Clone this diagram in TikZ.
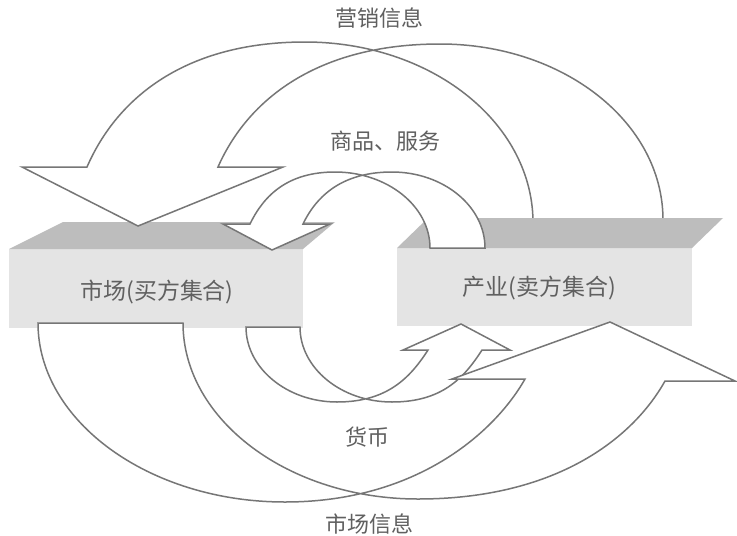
\documentclass[tikz,border=0pt]{standalone}
\usepackage{fontspec}
\newfontfamily\cjk{Noto Sans CJK SC}
\definecolor{linegray}{HTML}{767676}
\definecolor{textgray}{HTML}{606060}
\definecolor{topgray}{HTML}{BDBDBD}
\definecolor{frontgray}{HTML}{E4E4E4}
\tikzset{
  arrowshape/.style={fill=white, draw=linegray, line width=1.5pt, line join=miter},
  lbl/.style={text=textgray, inner sep=0pt, font=\cjk\fontsize{22}{22}\selectfont},
  boxlbl/.style={lbl, font=\cjk\fontsize{23}{23}\selectfont},
  topface/.style={fill=topgray},
  frontface/.style={fill=frontgray}
}
\begin{document}
\begin{tikzpicture}[x=1pt,y=-1pt]
\useasboundingbox (0,0) rectangle (737,536);
\fill[white] (0,0) rectangle (737,536);

% left box (market)
\fill[frontface] (9,249) rectangle (303,328);
\fill[topface] (9,249) -- (63,222) -- (335,222) -- (303,249) -- cycle;

% arrow 1: marketing information
\path[arrowshape] (22,167) -- (87,167)
  .. controls (117,98) and (185,42) .. (305,42)
  .. controls (430,42) and (531,121) .. (533,220)
  -- (663,220)
  .. controls (663,122) and (563,44) .. (440,44)
  .. controls (318,44) and (248,99) .. (218,167)
  -- (283,167) -- (138,226) -- cycle;

% right box (industry)
\fill[frontface] (397,248) rectangle (692,326);
\fill[topface] (397,248) -- (428,218) -- (723,218) -- (692,248) -- cycle;

% arrow 2: goods and services
\path[arrowshape] (223,224) -- (250,224)
  .. controls (264,195) and (288,172) .. (335,172)
  .. controls (387,172) and (430,206) .. (430,248)
  -- (485,248)
  .. controls (485,206) and (443,172) .. (392,172)
  .. controls (343,172) and (317,195) .. (303,224)
  -- (330,224) -- (272,250) -- cycle;

% arrow 3: money
\path[arrowshape] (246,327)
  .. controls (246,368) and (287,402) .. (337,402)
  .. controls (387,402) and (410,378) .. (428,350)
  -- (403,350) -- (461,324) -- (510,350) -- (482,350)
  .. controls (464,378) and (442,402) .. (392,402)
  .. controls (341,402) and (300,368) .. (300,327)
  -- cycle;

% arrow 4: market information
\path[arrowshape] (38,323)
  .. controls (38,421) and (149,502) .. (285,502)
  .. controls (417,502) and (495,432) .. (525,379)
  -- (452,379) -- (610,322) -- (735,381) -- (665,381)
  .. controls (632,440) and (554,499) .. (418,499)
  .. controls (289,499) and (183,420) .. (183,323)
  -- cycle;

% labels
\node[lbl] (mkt)   at (379,18)  {营销信息};
\node[lbl] (gs)    at (385,141) {商品、服务};
\node[boxlbl] (buy)   at (157,292) {市场(买方集合)};
\node[boxlbl] (sell)  at (539,288) {产业(卖方集合)};
\node[lbl] (money) at (367,437) {货币};
\node[lbl] (info)  at (369,524) {市场信息};
\end{tikzpicture}
\end{document}
